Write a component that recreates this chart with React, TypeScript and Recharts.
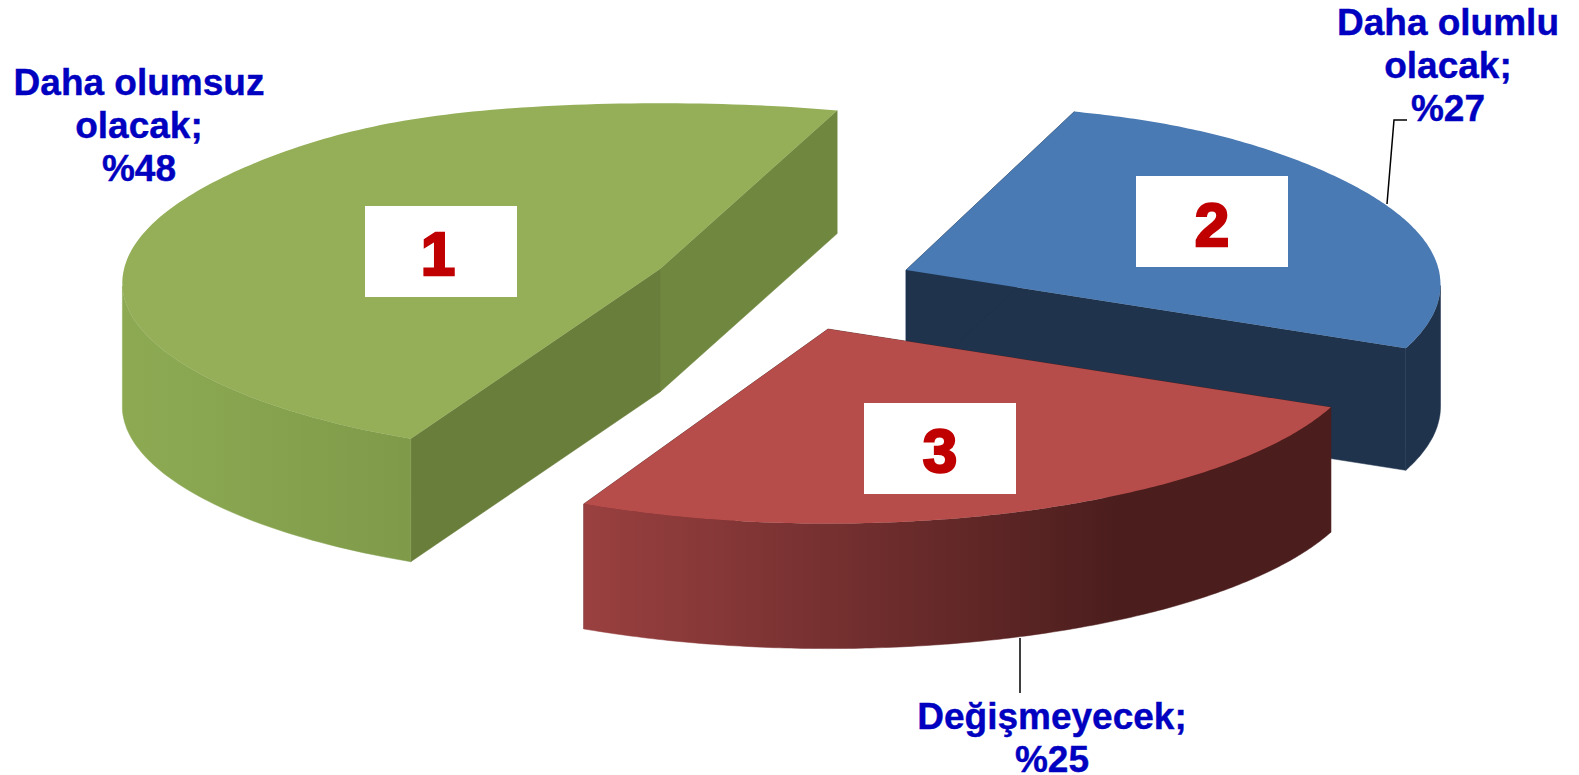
import React from "react";
import { PieChart, Pie } from "recharts";

const names = ["Daha olumsuz olacak", "Daha olumlu olacak", "Değişmeyecek"];
const values = [48, 27, 25];
const numbers = ["1", "2", "3"];
const labelLines = [
  ["Daha olumsuz", "olacak;", "%48"],
  ["Daha olumlu", "olacak;", "%27"],
  ["Değişmeyecek;", "%25"],
];

const pieData = names.map((name, i) => ({ name, value: values[i], idx: i }));

const WIDTH = 1579;
const HEIGHT = 775;
const CX = 800;
const CY = 300;
const RX = 536;
const RY = 179;
const PERSPECTIVE = 0.08;
const FONT = "'Liberation Sans', Arial, sans-serif";

// how each slice is pulled out of the pie, and how it looks
const sliceStyles = [
  {
    dx: -140, dy: -31, depth: 123, squash: 0.97, back: 0.22, fore: 0.037, rx: 1,
    top: "#94AF57", faceA: "#6A7E3C", faceB: "#70873F",
    wall: [["0%", "#8DAA53"], ["100%", "#7F9B4A"]],
  },
  {
    dx: 106, dy: -30, depth: 122, squash: 1, back: 0.15, fore: 0, rx: 0.994,
    top: "#4A7AB3", faceA: "#1F334D", faceB: "#1F334D",
    wall: [["0%", "#1F334D"], ["100%", "#1F334D"]],
  },
  {
    dx: 28, dy: 29, depth: 125, squash: 1, back: 0.15, fore: 0, rx: 1,
    top: "#B74D4A", faceA: "#4C1E1E", faceB: "#4C1E1E",
    wall: [["0%", "#9A4040"], ["72%", "#4B1D1D"], ["100%", "#4B1D1D"]],
  },
];

const boxes = [
  { x: 365, y: 206, tx: 438, ty: 275 },
  { x: 1136, y: 176, tx: 1212, ty: 246 },
  { x: 864, y: 403, tx: 940, ty: 472 },
];
const BOX_W = 152;
const BOX_H = 91;

const labelSpots = [
  { x: 139, y: 95 },
  { x: 1448, y: 35 },
  { x: 1052, y: 729 },
];
const LINE_GAP = 43;
const leaders = ["", "1387,204 1394,120 1407,120", "1020,638 1020,693"];

type SliceStyle = (typeof sliceStyles)[number];

// disc angle (degrees) -> point on the tilted top surface
const project = (deg: number, s: SliceStyle) => {
  const a = (deg * Math.PI) / 180;
  const X = Math.cos(a);
  const Y = Math.sin(a);
  const w = 1 + PERSPECTIVE * Y;
  // reference arcs run a little wider near the top and bottom than a true ellipse
  const widen = 1 + (Y > 0 ? s.back : s.fore) * Math.pow(Y, 6);
  return {
    x: ((RX * s.rx * X) / w) * widen,
    y: ((-RY * Y) / w) * (Y < 0 ? s.squash : 1),
    sin: Y,
  };
};

const Slice3D = (props: any) => {
  const { cx, cy, startAngle, endAngle, payload } = props;
  const i = payload.idx;
  const s = sliceStyles[i];
  const ox = cx + s.dx;
  const oy = cy + s.dy;
  const steps = 160;
  const arc = Array.from({ length: steps + 1 }, (_, n) =>
    project(startAngle + ((endAngle - startAngle) * n) / steps, s)
  ).map((p) => ({ x: ox + p.x, y: oy + p.y, sin: p.sin }));

  const first = arc[0];
  const last = arc[arc.length - 1];
  const d = s.depth;
  const pts = (list: { x: number; y: number }[]) =>
    list.map((p) => `${p.x.toFixed(1)},${p.y.toFixed(1)}`).join(" ");
  const drop = (p: { x: number; y: number }) => ({ x: p.x, y: p.y + d });
  const apex = { x: ox, y: oy };

  // the outer wall only shows from the widest point of the ellipse forward
  const front = arc.filter((p) => p.sin <= -PERSPECTIVE);
  const gradId = `wall-${i}`;
  const minX = Math.min(...front.map((p) => p.x));
  const maxX = Math.max(...front.map((p) => p.x));

  return (
    <g>
      <defs>
        <linearGradient id={gradId} gradientUnits="userSpaceOnUse" x1={minX} x2={maxX} y1={0} y2={0}>
          {s.wall.map(([offset, color]) => (
            <stop key={offset} offset={offset} stopColor={color} />
          ))}
        </linearGradient>
      </defs>
      <polygon points={pts([apex, last, drop(last), drop(apex)])} fill={s.faceB} stroke={s.faceB} strokeWidth={0.5} />
      <polygon points={pts([apex, first, drop(first), drop(apex)])} fill={s.faceA} stroke={s.faceA} strokeWidth={0.5} />
      <polygon
        points={pts([...front, ...[...front].reverse().map(drop)])}
        fill={`url(#${gradId})`}
        stroke={`url(#${gradId})`}
        strokeWidth={0.5}
      />
      <polygon points={pts([apex, ...arc])} fill={s.top} />
    </g>
  );
};

const SliceLabel = (props: any) => {
  const i = props.index;
  const box = boxes[i];
  const spot = labelSpots[i];
  return (
    <g>
      <rect x={box.x} y={box.y} width={BOX_W} height={BOX_H} fill="#FFFFFF" />
      <text
        x={box.tx}
        y={box.ty}
        textAnchor="middle"
        fontFamily={FONT}
        fontWeight="bold"
        fontSize={62}
        fill="#C00000"
        stroke="#C00000"
        strokeWidth={2.5}
      >
        {numbers[i]}
      </text>
      {leaders[i] && <polyline points={leaders[i]} fill="none" stroke="#000000" strokeWidth={1.5} />}
      <text
        textAnchor="middle"
        fontFamily={FONT}
        fontWeight="bold"
        fontSize={37}
        fill="#0000C0"
        stroke="#0000C0"
        strokeWidth={0.4}
      >
        {labelLines[i].map((line, n) => (
          <tspan key={n} x={spot.x} y={spot.y + n * LINE_GAP}>
            {line}
          </tspan>
        ))}
      </text>
    </g>
  );
};

export default function App() {
  return (
    <div style={{ position: "absolute", left: 0, top: 0, width: WIDTH, height: HEIGHT, background: "#fff" }}>
      <PieChart width={WIDTH} height={HEIGHT} margin={{ top: 0, right: 0, bottom: 0, left: 0 }}>
        <Pie
          data={pieData}
          dataKey="value"
          nameKey="name"
          cx={CX}
          cy={CY}
          outerRadius={RX}
          startAngle={-115}
          endAngle={-475}
          stroke="none"
          isAnimationActive={false}
          shape={Slice3D}
          label={SliceLabel}
          labelLine={false}
        />
      </PieChart>
    </div>
  );
}
